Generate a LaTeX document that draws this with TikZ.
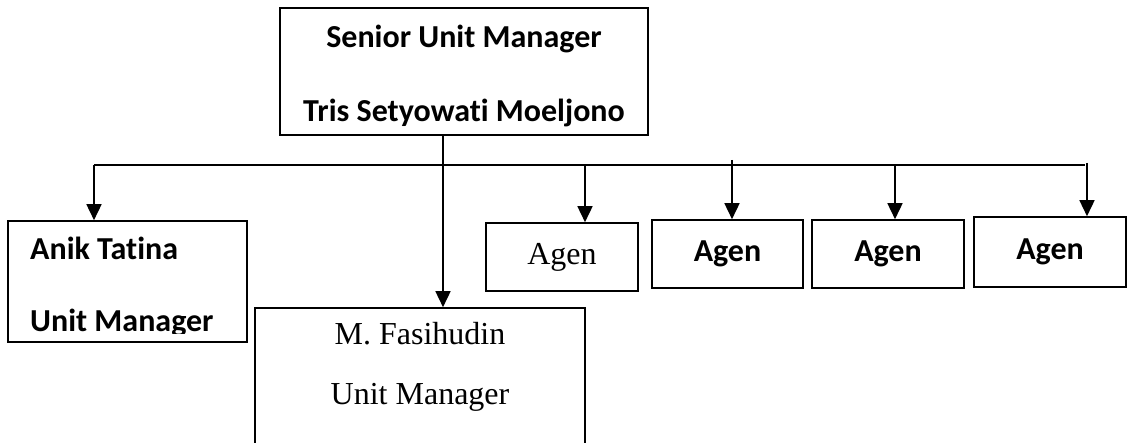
\documentclass[tikz,border=0pt]{standalone}
\usepackage{fontspec}
\setmainfont{Liberation Serif}
\newfontfamily\calibri[Ligatures=NoCommon]{Carlito}
\usetikzlibrary{arrows.meta, positioning}

\begin{document}
\begin{tikzpicture}[x=1pt, y=-1pt,
        box/.style={rectangle, draw, line width=1.6pt, inner sep=0pt},
        boldlbl/.style={font=\calibri\bfseries\fontsize{32}{38}\selectfont, inner sep=0pt},
        plainlbl/.style={font=\fontsize{32}{38}\selectfont, inner sep=0pt},
        flow/.style={draw, line width=1.6pt, -{Triangle[width=15pt, length=16pt]}},
        bar/.style={draw, line width=1.3pt}
    ]
    \useasboundingbox (0,0) rectangle (1130,443);

    % boxes
    \node (senior) [box, minimum width=368pt, minimum height=127pt] at (464,71.5) {};
    \node (anik) [box, minimum width=239pt, minimum height=121pt] at (127.5,281.5) {};
    \node (fasi) [box, minimum width=330pt, minimum height=170pt] at (420,393) {};
    \node (agenA) [box, plainlbl, minimum width=152pt, minimum height=68pt] at (562,257) {Agen};
    \node (agenB) [box, boldlbl, minimum width=151pt, minimum height=68pt] at (727.5,254) {Agen};
    \node (agenC) [box, boldlbl, minimum width=152pt, minimum height=68pt] at (888,254) {Agen};
    \node (agenD) [box, boldlbl, minimum width=152pt, minimum height=70pt] at (1050,252) {Agen};

    % texts
    \node (seniorRole) [boldlbl, anchor=base] at (464,48) {Senior Unit Manager};
    \begin{scope}
        \clip (senior.north west) rectangle ([yshift=9pt]senior.south east);
        \node (seniorName) [boldlbl, anchor=base] at (464,122) {Tris Setyowati Moeljono};
    \end{scope}
    \node (anikName) [boldlbl, anchor=base west] at (30,260) {Anik Tatina};
    \begin{scope}
        \clip (anik.north west) rectangle ([yshift=9pt]anik.south east);
        \node (anikRole) [boldlbl, anchor=base west] at (30,332) {Unit Manager};
    \end{scope}
    \node (fasiName) [plainlbl, anchor=base] at (420,345) {M. Fasihudin};
    \node (fasiRole) [plainlbl, anchor=base] at (420,405) {Unit Manager};

    % bus line and its taps
    \coordinate (busL) at (94,165);
    \coordinate (busR) at (1085,165);
    \coordinate (tapA) at (585,165);
    \coordinate (tapB) at (732,160);
    \coordinate (tapC) at (895,165);
    \coordinate (tapD) at (1087,163);

    \draw[bar] (busL) -- (busR);
    \draw[flow] ([xshift=-21pt]senior.south) -- ([xshift=-21pt]senior.south |- fasi.north);
    \draw[flow] (busL) -- (busL |- anik.north);
    \draw[flow] (tapA) -- (tapA |- agenA.north);
    \draw[flow] (tapB) -- (tapB |- agenB.north);
    \draw[flow] (tapC) -- (tapC |- agenC.north);
    \draw[flow] (tapD) -- (tapD |- agenD.north);
\end{tikzpicture}
\end{document}
